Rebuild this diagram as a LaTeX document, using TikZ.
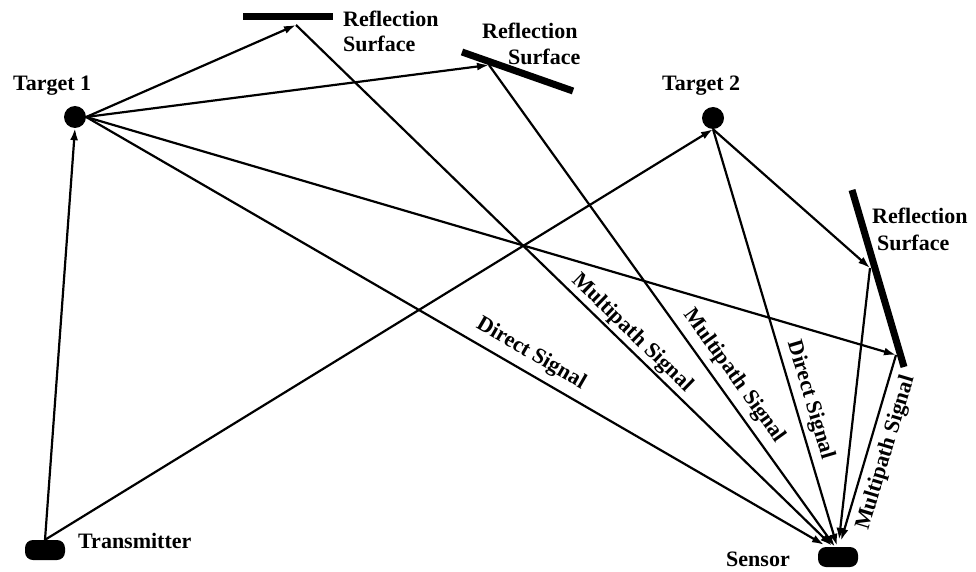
\documentclass[tikz,border=0pt]{standalone}
\usepackage{fontspec}
\setmainfont{Liberation Serif}
\usetikzlibrary{arrows.meta}
\begin{document}
\begin{tikzpicture}[x=1pt,y=-1pt,
  conn/.style={line width=2.2pt, -{Latex[length=12pt,width=8pt]}},
  bar/.style={line width=7pt},
  dot/.style={circle, fill=black, inner sep=0pt, minimum size=22pt},
  pill/.style={rectangle, rounded corners=8pt, fill=black, inner sep=0pt, minimum width=40pt, minimum height=20pt},
  lbl/.style={font=\bfseries\fontsize{22}{26}\selectfont, inner sep=0pt},
]
\useasboundingbox (0,0) rectangle (976,572);

% objects
\node[dot] (t1) at (75,117) {};
\node[dot] (t2) at (713,118) {};
\node[pill] (tx) at (45,550) {};
\node[pill] (rx) at (838,557) {};

% reflection surfaces
\draw[bar] (243,17) -- (333,17);
\draw[bar] (462,52) -- (573,91);
\draw[bar] (852,190) -- (904,367);

\coordinate (p1) at (296,25);
\coordinate (p2) at (489,65);
\coordinate (p3) at (870,268);
\coordinate (p4) at (896,355);

% labels
\node[lbl, anchor=base west] (lt1) at (13,91) {Target 1};
\node[lbl, anchor=base west] (lt2) at (662,91) {Target 2};
\node[lbl, anchor=base west] (ltx) at (78,548) {Transmitter};
\node[lbl, anchor=base west] (lrx) at (726,566) {Sensor};
\node[lbl, anchor=base west] (r1a) at (343,27) {Reflection};
\node[lbl, anchor=base west] (r1b) at (343,52) {Surface};
\node[lbl, anchor=base west] (r2a) at (482,39) {Reflection};
\node[lbl, anchor=base west] (r2b) at (508,65) {Surface};
\node[lbl, anchor=base west] (r3a) at (872,223) {Reflection};
\node[lbl, anchor=base west] (r3b) at (877,250) {Surface};

% connectors
\draw[conn] (tx.north) -- (t1.south);
\draw[conn] (tx.north) -- (t2.south);
\draw[conn] (t1.east) -- (p1);
\draw[conn] (t1.east) -- (p2);
\draw[conn] (t1.east) -- (p4);
\draw[conn] (t2.south) -- (p3);
\draw[conn] (t1.east) -- ([xshift=-14pt,yshift=2pt]rx.north);
\draw[conn] (p1) -- ([xshift=-6pt,yshift=1pt]rx.north);
\draw[conn] (p2) -- ([xshift=-3pt]rx.north);
\draw[conn] (t2.south) -- ([xshift=-1pt,yshift=1pt]rx.north);
\draw[conn] (p3) -- ([xshift=1pt,yshift=7pt]rx.north);
\draw[conn] (p4) -- ([xshift=3pt,yshift=6pt]rx.north);

% signal labels
\node[lbl, rotate=-30] (ds1) at (531,354) {Direct Signal};
\node[lbl, rotate=-44.2] (ms1) at (632,333) {Multipath Signal};
\node[lbl, rotate=-54.3] (ms2) at (734,376) {Multipath Signal};
\node[lbl, rotate=-73.5] (ds2) at (810,400) {Direct Signal};
\node[lbl, rotate=73.3] (ms3) at (886,453) {Multipath Signal};
\end{tikzpicture}
\end{document}
